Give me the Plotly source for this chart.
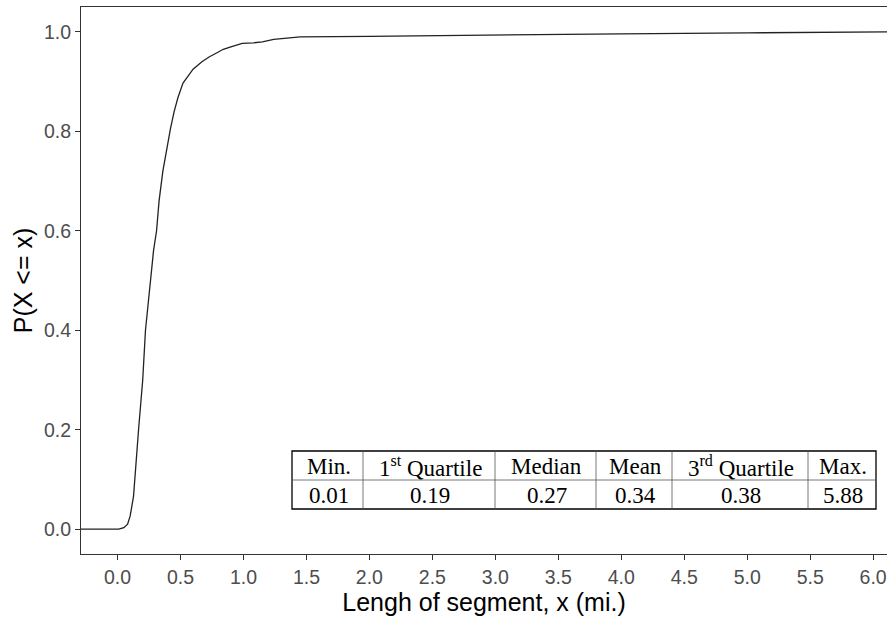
import plotly.graph_objects as go

# ECDF curve
seg_len = [-0.30, 0.00, 0.01, 0.05, 0.08, 0.10, 0.127, 0.167, 0.20, 0.222, 0.246, 0.27, 0.286, 0.31, 0.33,
           0.36, 0.39, 0.42, 0.45, 0.48, 0.52, 0.56, 0.60, 0.67, 0.73, 0.79, 0.84, 0.90, 0.99, 1.08,
           1.15, 1.24, 1.35, 1.45, 2.0, 3.0, 4.0, 5.0, 5.88, 6.2]
cum_prob = [0.0, 0.0, 0.0, 0.003, 0.010, 0.026, 0.066, 0.20, 0.30, 0.40, 0.46, 0.51, 0.56, 0.60, 0.66,
            0.72, 0.763, 0.805, 0.84, 0.868, 0.897, 0.912, 0.925, 0.94, 0.950, 0.958, 0.965, 0.970, 0.977, 0.978,
            0.980, 0.985, 0.988, 0.990, 0.991, 0.994, 0.996, 0.998, 1.0, 1.0]

table_headers = ["Min.", "1<sup>st</sup> Quartile", "Median", "Mean", "3<sup>rd</sup> Quartile", "Max."]
table_values = ["0.01", "0.19", "0.27", "0.34", "0.38", "5.88"]

W, H = 887, 623
L, R, T, B = 81, 0, 7, 69
pw, ph = W - L - R, H - T - B

def px(x):
    return (x - L) / pw

def py(y):
    return (H - B - y) / ph

fig = go.Figure()
fig.add_trace(go.Scatter(x=seg_len, y=cum_prob, mode="lines",
                         line=dict(color="#222222", width=1.3), showlegend=False))

# table geometry (pixels)
col_edges = [292, 363, 495, 596, 672, 808, 876]
top, mid, bot = 451, 480, 509
shapes = []
shapes.append(dict(type="rect", xref="paper", yref="paper", x0=px(col_edges[0]), x1=px(col_edges[-1]),
                   y0=py(bot), y1=py(top), line=dict(color="black", width=1.3), fillcolor="white", layer="above"))
shapes.append(dict(type="line", xref="paper", yref="paper", x0=px(col_edges[0]), x1=px(col_edges[-1]),
                   y0=py(mid), y1=py(mid), line=dict(color="#555555", width=0.8), layer="above"))
for e in col_edges[1:-1]:
    shapes.append(dict(type="line", xref="paper", yref="paper", x0=px(e), x1=px(e),
                       y0=py(bot), y1=py(top), line=dict(color="#555555", width=0.8), layer="above"))

annotations = []
tfont = dict(family="Liberation Serif, Times New Roman, serif", size=23, color="black")
for i in range(6):
    cx = px((col_edges[i] + col_edges[i + 1]) / 2 + 1)
    annotations.append(dict(x=cx, y=py((top + mid) / 2 + 1), xref="paper", yref="paper", text=table_headers[i],
                            showarrow=False, font=tfont, xanchor="center", yanchor="middle"))
    annotations.append(dict(x=cx, y=py((mid + bot) / 2 + 1), xref="paper", yref="paper", text=table_values[i],
                            showarrow=False, font=tfont, xanchor="center", yanchor="middle"))

fig.update_layout(
    width=W, height=H,
    margin=dict(l=L, r=R, t=T, b=B),
    plot_bgcolor="white", paper_bgcolor="white",
    font=dict(family="Liberation Sans, Arial, sans-serif"),
    shapes=shapes, annotations=annotations,
    xaxis=dict(range=[-0.29, 6.11], tickvals=[i * 0.5 for i in range(13)],
               ticktext=[f"{i*0.5:.1f}" for i in range(13)],
               showgrid=False, zeroline=False, showline=True, mirror=True, linecolor="#333333", linewidth=1.2,
               ticks="outside", ticklen=5, tickcolor="#333333", tickwidth=1.1,
               tickfont=dict(size=19.5, color="#4D4D4D"),
               title=dict(text="Lengh of segment, x (mi.)", font=dict(size=25, color="black"), standoff=2)),
    yaxis=dict(range=[-0.05, 1.05], tickvals=[0, 0.2, 0.4, 0.6, 0.8, 1.0],
               ticktext=["0.0", "0.2", "0.4", "0.6", "0.8", "1.0"],
               showgrid=False, zeroline=False, showline=True, mirror=True, linecolor="#333333", linewidth=1.2,
               ticks="outside", ticklen=5, tickcolor="#333333", tickwidth=1.1,
               tickfont=dict(size=19.5, color="#4D4D4D"),
               title=dict(text="P(X <= x)", font=dict(size=25, color="black"), standoff=4)),
)

fig.write_html("out.html")
